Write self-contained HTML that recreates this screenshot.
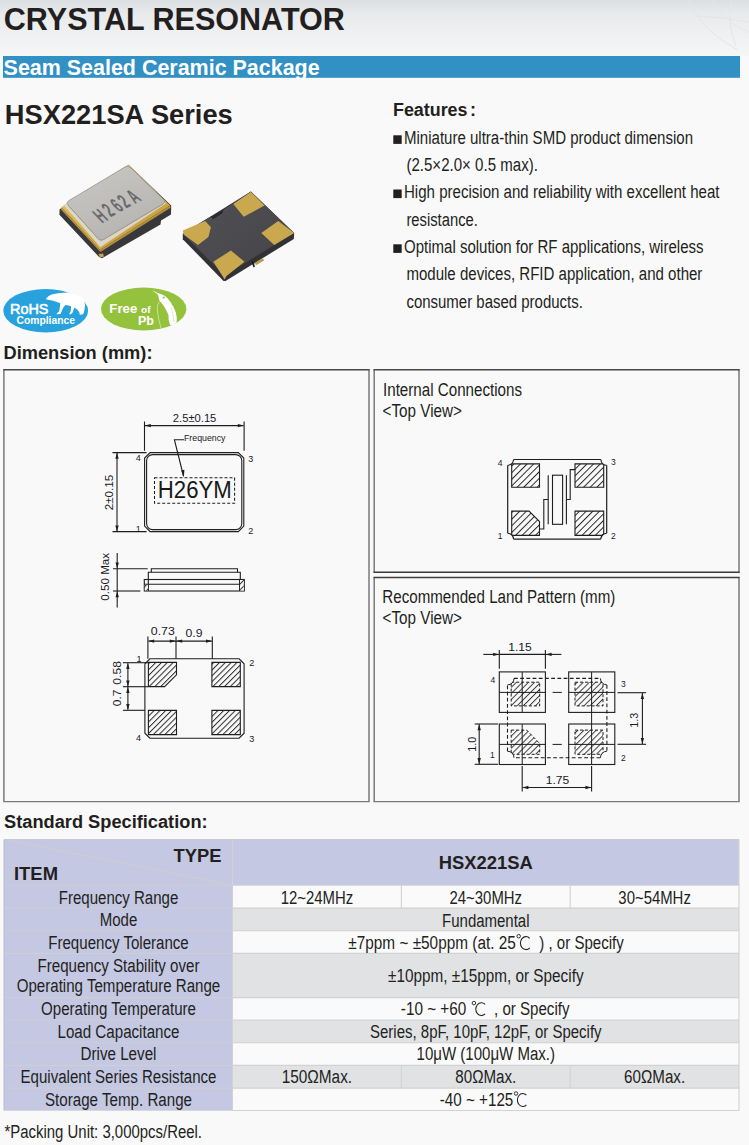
<!DOCTYPE html>
<html><head><meta charset="utf-8"><title>HSX221SA</title>
<style>
html,body{margin:0;padding:0;background:#f9f9f9;}
svg{display:block;font-family:'Liberation Sans', sans-serif;}
</style></head><body>
<svg width="749" height="1145" viewBox="0 0 749 1145">
<defs>
<linearGradient id="bg" x1="0" y1="0" x2="0" y2="1">
<stop offset="0" stop-color="#dcdfe1"/>
<stop offset="0.25" stop-color="#e8eaec"/>
<stop offset="0.6" stop-color="#eff0f1"/>
<stop offset="1" stop-color="#f5f6f6"/>
</linearGradient>
<pattern id="hatch" patternUnits="userSpaceOnUse" width="4.1" height="4.1" patternTransform="rotate(45)">
<rect width="4.1" height="4.1" fill="#f9f9f9"/>
<line x1="0.5" y1="0" x2="0.5" y2="4.1" stroke="#222" stroke-width="0.95"/>
</pattern>
<linearGradient id="gold1" x1="0" y1="0" x2="1" y2="1">
<stop offset="0" stop-color="#e8c870"/><stop offset="0.5" stop-color="#d4ac48"/><stop offset="1" stop-color="#c09838"/>
</linearGradient>
<linearGradient id="lid" x1="0.2" y1="0" x2="0.8" y2="1">
<stop offset="0" stop-color="#c8c6c3"/><stop offset="0.6" stop-color="#bdbbb8"/><stop offset="1" stop-color="#b2b0ad"/>
</linearGradient>
<linearGradient id="body2" x1="0" y1="0" x2="1" y2="1">
<stop offset="0" stop-color="#525155"/><stop offset="1" stop-color="#444347"/>
</linearGradient>
<pattern id="hatch2" patternUnits="userSpaceOnUse" width="4.3" height="4.3" patternTransform="rotate(45)">
<rect width="4.3" height="4.3" fill="#f9f9f9"/>
<line x1="0.5" y1="0" x2="0.5" y2="4.3" stroke="#2a2a2a" stroke-width="0.9"/>
</pattern>
<pattern id="hatch3" patternUnits="userSpaceOnUse" width="4.7" height="4.7" patternTransform="rotate(45)">
<rect width="4.7" height="4.7" fill="#f9f9f9"/>
<line x1="0.5" y1="0" x2="0.5" y2="4.7" stroke="#222" stroke-width="0.95"/>
</pattern>
</defs>
<rect x="0" y="0" width="749" height="1145" fill="#f9f9f9"/>
<rect x="0" y="0" width="749" height="56" fill="url(#bg)"/>
<path d="M688,0 Q702,32 738,50 M712,0 Q726,24 749,32 M696,16 Q724,17 749,22 M731,0 Q727,25 736,46" fill="none" stroke="#e3e6e8" stroke-width="1"/>

<text x="3.8" y="30" font-size="31" text-anchor="start" font-weight="bold" fill="#231f20" textLength="341" lengthAdjust="spacingAndGlyphs" >CRYSTAL RESONATOR</text>
<rect x="3" y="56" width="737" height="21.8" fill="#3190c4"/>
<text x="3.6" y="74.8" font-size="21.2" text-anchor="start" font-weight="bold" fill="#ffffff" textLength="316" lengthAdjust="spacingAndGlyphs" >Seam Sealed Ceramic Package</text>
<text x="4.8" y="124" font-size="27.3" text-anchor="start" font-weight="bold" fill="#231f20" textLength="228" lengthAdjust="spacingAndGlyphs" >HSX221SA Series</text>
<polygon points="59.6,209.2 128.5,164.8 171.2,205.6 171.0,214.5 161.0,220.5 160.5,224.5 102.0,258.2 99.1,257.0 59.4,214.8" fill="#38373c" />
<polygon points="61.2,207.3 128.5,164.6 170.2,205.6 100.0,250.0" fill="url(#gold1)" />
<polygon points="61.2,207.3 100.0,250.0 100.4,252.0 61.0,209.6" fill="#b8963e" />
<polygon points="100.0,250.0 170.2,205.6 170.5,207.8 100.4,252.0" fill="#b0903c" />
<polygon points="63.5,205.0 127.5,165.6 166.0,203.6 100.3,247.2" fill="#dcd6c6" />
<path d="M68.5,200.8 Q66,202.8 68,205 L98,238.5 Q100.5,241.5 103.5,239.5 L163,204 Q166,202 163.5,199.5 L131,168 Q128,165.3 125,167 Z" fill="url(#lid)" stroke="#8f8c86" stroke-width="0.7"/>
<path d="M68,205 L98,238.5 Q100.5,241.5 103.5,239.5 L163,204" fill="none" stroke="#a09c92" stroke-width="0.9"/>
<text x="0" y="0" font-size="19" font-weight="bold" fill="#6a6a6d" transform="matrix(0.530,-0.281,0.834,0.864,102,223.6)">H</text>
<text x="0" y="0" font-size="19" font-weight="bold" fill="#6a6a6d" transform="matrix(0.530,-0.281,0.834,0.864,110.8,217.3)">2</text>
<text x="0" y="0" font-size="19" font-weight="bold" fill="#6a6a6d" transform="matrix(0.530,-0.281,0.834,0.864,119.3,212.6)">6</text>
<text x="0" y="0" font-size="19" font-weight="bold" fill="#6a6a6d" transform="matrix(0.530,-0.281,0.834,0.864,126.3,208.4)">2</text>
<text x="0" y="0" font-size="19" font-weight="bold" fill="#6a6a6d" transform="matrix(0.530,-0.281,0.834,0.864,135,204)">A</text>
<polygon points="98.5,254.0 103.0,253.5 104.0,256.5 100.0,257.5" fill="#c9a548" />
<polygon points="182.8,233.7 250.9,191.5 294.2,232.9 293.8,239.0 225.5,281.0 223.5,281.0 182.8,239.2" fill="#323136" />
<polygon points="182.8,233.7 210.5,216.5 213.0,219.0 222.0,213.5 223.5,210.0 250.9,191.5 294.2,232.9 224.5,275.3" fill="url(#body2)" />
<polygon points="210.5,216.5 213.0,219.0 222.0,213.5 223.5,210.0 221.0,211.5 212.0,217.0" fill="#2a292e" />
<polygon points="233.3,204.0 250.9,192.0 264.5,205.6 243.7,216.8" fill="#c9a84f" />
<polygon points="182.8,230.5 205.2,220.9 210.9,227.3 208.4,236.9 198.0,244.9 183.6,234.5" fill="#c9a84f" />
<polygon points="261.3,232.9 278.2,220.9 294.2,232.9 274.2,244.9" fill="#c9a84f" />
<polygon points="213.3,261.7 230.9,250.5 244.5,261.7 226.5,276.0 224.5,279.5 222.5,276.0" fill="#c9a84f" />
<polygon points="254.0,263.5 262.0,258.5 264.5,260.0 256.5,265.0" fill="#b89a48" />
<polygon points="251.5,262.0 253.0,261.0 255.0,266.5 253.5,267.5" fill="#1e1d22" />
<ellipse cx="45.7" cy="310.7" rx="42.4" ry="21.7" fill="#27a2dd"/>
<path d="M46,298.6 Q48.5,295.5 51.5,294.4 Q60,292.3 69.5,292.5 Q78,294.5 84.2,299.5 Q85.8,305 84.5,310 L83.6,313.6 Q81.5,315.2 79.6,314.7 Q80,312.5 78.6,311.3 L76.8,309.2 L74.2,307.6 Q73.6,310.5 72.6,312.6 Q71.2,314.6 69.6,314.5 Q69.2,313.3 70.4,311.8 Q71.4,309 71,306.2 Q68.5,305.2 65.5,305 Q63,307 62.2,309.8 Q61.2,313 60.5,313.9 L56.3,314.2 Q57.5,312.6 59,311.6 Q60,307.5 60.2,303.2 Q56,301.6 52.3,300.6 Q49,300.2 46.6,299.6 Z" fill="#ffffff"/>
<text x="10" y="314" font-size="14.5" text-anchor="start" fill="#ffffff" textLength="38.5" lengthAdjust="spacingAndGlyphs" stroke="#ffffff" stroke-width="0.55">RoHS</text>
<text x="16.5" y="323.7" font-size="10" text-anchor="start" font-weight="bold" fill="#ffffff" textLength="58.5" lengthAdjust="spacingAndGlyphs" >Compliance</text>
<ellipse cx="143.7" cy="309" rx="42.7" ry="21.4" fill="#95c23c"/>
<text x="109.3" y="312.8" font-size="12.5" text-anchor="start" font-weight="bold" fill="#ffffff" textLength="28" lengthAdjust="spacingAndGlyphs" >Free</text>
<text x="141" y="312.8" font-size="9.5" text-anchor="start" font-weight="bold" fill="#ffffff" textLength="9.5" lengthAdjust="spacingAndGlyphs" >of</text>
<text x="138" y="325" font-size="12.5" text-anchor="start" font-weight="bold" fill="#ffffff" textLength="16" lengthAdjust="spacingAndGlyphs" >Pb</text>
<path d="M151.9,290.1 L158,293.3 Q162,293.6 165.3,296.2 Q171,301 174.9,310.1 Q177.5,317 176.5,322.4 Q174,325.5 170.1,325 Q168,320 168.5,314.9 Q166,309 162.6,304.2 L159.4,300.5 L157.8,294.4 Z" fill="#ffffff"/>
<ellipse cx="163.7" cy="297.5" rx="1.3" ry="0.9" fill="#95c23c" transform="rotate(-35 163.7 297.5)"/>
<path d="M159.4,301.6 Q156.5,306 157.3,310 Q158.5,320 161,328" fill="none" stroke="#ffffff" stroke-width="0.6" opacity="0.8"/>
<path d="M171.2,308 Q173.5,315 173.8,322.4" fill="none" stroke="#95c23c" stroke-width="0.6" stroke-dasharray="1,1"/>
<text x="393" y="116" font-size="18" text-anchor="start" font-weight="bold" fill="#231f20" textLength="74.5" lengthAdjust="spacingAndGlyphs" >Features</text>
<text x="470" y="116" font-size="18" text-anchor="start" font-weight="bold" fill="#231f20" >:</text>
<rect x="393.3" y="135.3" width="8.4" height="8.6" fill="#231f20"/>
<text x="404" y="144.1" font-size="18" text-anchor="start" fill="#231f20" textLength="289" lengthAdjust="spacingAndGlyphs" >Miniature ultra-thin SMD product dimension</text>
<text x="406.4" y="171" font-size="18" text-anchor="start" fill="#231f20" textLength="131.5" lengthAdjust="spacingAndGlyphs" >(2.5×2.0× 0.5 max).</text>
<rect x="393.3" y="189.5" width="8.4" height="8.6" fill="#231f20"/>
<text x="404" y="198.3" font-size="18" text-anchor="start" fill="#231f20" textLength="315.5" lengthAdjust="spacingAndGlyphs" >High precision and reliability with excellent heat</text>
<text x="406.4" y="225.7" font-size="18" text-anchor="start" fill="#231f20" textLength="71.5" lengthAdjust="spacingAndGlyphs" >resistance.</text>
<rect x="393.3" y="244.3" width="8.4" height="8.6" fill="#231f20"/>
<text x="404" y="253.1" font-size="18" text-anchor="start" fill="#231f20" textLength="299.5" lengthAdjust="spacingAndGlyphs" >Optimal solution for RF applications, wireless</text>
<text x="406.4" y="280.3" font-size="18" text-anchor="start" fill="#231f20" textLength="296" lengthAdjust="spacingAndGlyphs" >module devices, RFID application, and other</text>
<text x="406.4" y="308.3" font-size="18" text-anchor="start" fill="#231f20" textLength="176.5" lengthAdjust="spacingAndGlyphs" >consumer based products.</text>
<text x="3.5" y="358.5" font-size="18" text-anchor="start" font-weight="bold" fill="#231f20" textLength="149" lengthAdjust="spacingAndGlyphs" >Dimension (mm):</text>
<path d="M3.9,801.6 V369.7 M369,369.7 V801.6" stroke="#7a7a7a" stroke-width="1.5" fill="none"/>
<path d="M3.2,369.7 H369.7" stroke="#474747" stroke-width="1.4" fill="none"/>
<path d="M3.2,801.6 H369.7" stroke="#7a7a7a" stroke-width="1.4" fill="none"/>
<path d="M374.2,572.2 V369.7 M739,369.7 V572.2" stroke="#7a7a7a" stroke-width="1.5" fill="none"/>
<path d="M373.5,369.7 H739.7" stroke="#474747" stroke-width="1.4" fill="none"/>
<path d="M373.5,572.2 H739.7" stroke="#3a3a3a" stroke-width="1.4" fill="none"/>
<path d="M374.2,801.6 V577.5 M739,577.5 V801.6" stroke="#7a7a7a" stroke-width="1.5" fill="none"/>
<path d="M373.5,577.5 H739.7" stroke="#3f3f3f" stroke-width="1.4" fill="none"/>
<path d="M373.5,801.6 H739.7" stroke="#7a7a7a" stroke-width="1.4" fill="none"/>
<path d="M150.1,452.6 H238.3 L243.8,458.1 V526.1 L238.3,531.6 H150.1 L144.6,526.1 V458.1 Z" fill="none" stroke="#1e1e1e" stroke-width="1.1" />
<rect x="146.6" y="454.6" width="95.2" height="75" rx="6" ry="6" fill="none" stroke="#1e1e1e" stroke-width="1.1"/>
<line x1="144.5" y1="421.5" x2="144.5" y2="450.8" stroke="#1e1e1e" stroke-width="1.1"/>
<line x1="244.1" y1="421.5" x2="244.1" y2="450.8" stroke="#1e1e1e" stroke-width="1.1"/>
<line x1="145" y1="425.6" x2="243.6" y2="425.6" stroke="#1e1e1e" stroke-width="1.1"/>
<polygon points="144.8,425.6 150.8,423.9 150.8,427.3" fill="#1e1e1e"/>
<polygon points="243.8,425.6 237.8,423.9 237.8,427.3" fill="#1e1e1e"/>
<text x="194.6" y="422" font-size="11.5" text-anchor="middle" fill="#1a1a2a" textLength="43.5" lengthAdjust="spacingAndGlyphs" >2.5±0.15</text>
<line x1="112.5" y1="452.6" x2="146.6" y2="452.6" stroke="#1e1e1e" stroke-width="1.1"/>
<line x1="112.5" y1="531.6" x2="146.6" y2="531.6" stroke="#1e1e1e" stroke-width="1.1"/>
<line x1="117" y1="453" x2="117" y2="531.2" stroke="#1e1e1e" stroke-width="1.1"/>
<polygon points="117.0,452.8 115.3,458.8 118.7,458.8" fill="#1e1e1e"/>
<polygon points="117.0,531.4 115.3,525.4 118.7,525.4" fill="#1e1e1e"/>
<text x="0" y="0" font-size="11.8" text-anchor="middle" fill="#1a1a2a" textLength="35.5" lengthAdjust="spacingAndGlyphs" transform="translate(112.7,492.5) rotate(-90)">2±0.15</text>
<rect x="154.5" y="477.8" width="80.1" height="25.5" fill="none" stroke="#1e1e1e" stroke-width="1.05" stroke-dasharray="3,2"/>
<text x="194.8" y="498.1" font-size="23" text-anchor="middle" fill="#1a1a1a" textLength="74" lengthAdjust="spacingAndGlyphs" >H26YM</text>
<path d="M184,439.7 H174.4 L183.5,476" fill="none" stroke="#1e1e1e" stroke-width="1.1" />
<polygon points="183.8,477.6 181.2,470.5 184.4,469.8" fill="#1e1e1e"/>
<text x="184" y="440.9" font-size="9.6" text-anchor="start" fill="#222" textLength="41.5" lengthAdjust="spacingAndGlyphs" >Frequency</text>
<text x="135.8" y="461.3" font-size="9" text-anchor="start" fill="#1a1a2a" >4</text>
<text x="248.2" y="461.5" font-size="9" text-anchor="start" fill="#1a1a2a" >3</text>
<text x="135.8" y="531.6" font-size="9" text-anchor="start" fill="#1a1a2a" >1</text>
<text x="248.2" y="534.3" font-size="9" text-anchor="start" fill="#1a1a2a" >2</text>
<line x1="117.2" y1="553" x2="117.2" y2="607.4" stroke="#1e1e1e" stroke-width="1.1"/>
<polygon points="117.2,568.6 115.5,562.6 118.9,562.6" fill="#1e1e1e"/>
<polygon points="117.2,591.2 115.5,597.2 118.9,597.2" fill="#1e1e1e"/>
<line x1="113" y1="568.8" x2="147.7" y2="568.8" stroke="#1e1e1e" stroke-width="1.1"/>
<line x1="113" y1="591" x2="140.4" y2="591" stroke="#1e1e1e" stroke-width="1.1"/>
<path d="M151.3,572.2 V568.8 H237.5 V572.2" fill="none" stroke="#1e1e1e" stroke-width="1.1" />
<path d="M148.3,579.5 V572.2 H240.3 V579.5" fill="none" stroke="#1e1e1e" stroke-width="1.1" />
<rect x="144.3" y="579.5" width="100" height="11.5" fill="none" stroke="#1e1e1e" stroke-width="1.1"/>
<line x1="144.3" y1="584.3" x2="244.3" y2="584.3" stroke="#1e1e1e" stroke-width="1.1"/>
<line x1="148.3" y1="579.5" x2="148.3" y2="591" stroke="#1e1e1e" stroke-width="1.1"/>
<line x1="239.6" y1="579.5" x2="239.6" y2="591" stroke="#1e1e1e" stroke-width="1.1"/>
<rect x="144.8" y="584.8" width="3" height="5.7" fill="url(#hatch)"/>
<rect x="240.1" y="580" width="3.7" height="10.5" fill="url(#hatch)"/>
<text x="0" y="0" font-size="11.8" text-anchor="middle" fill="#1a1a2a" textLength="48" lengthAdjust="spacingAndGlyphs" transform="translate(108.6,576.8) rotate(-90)">0.50 Max</text>
<path d="M149.9,658.8 H239.1 L244.1,663.8 V733.2 L239.1,738.2 H149.9 L144.9,733.2 V663.8 Z" fill="none" stroke="#1e1e1e" stroke-width="1.1" />
<line x1="147.9" y1="636.6" x2="147.9" y2="658.8" stroke="#1e1e1e" stroke-width="1.1"/>
<line x1="176" y1="636.6" x2="176" y2="658.8" stroke="#1e1e1e" stroke-width="1.1"/>
<line x1="212.3" y1="636.6" x2="212.3" y2="658.8" stroke="#1e1e1e" stroke-width="1.1"/>
<line x1="148.5" y1="641.1" x2="211.8" y2="641.1" stroke="#1e1e1e" stroke-width="1.1"/>
<polygon points="148.2,641.1 154.2,639.4 154.2,642.8" fill="#1e1e1e"/>
<polygon points="175.8,641.1 169.8,639.4 169.8,642.8" fill="#1e1e1e"/>
<polygon points="176.2,641.1 182.2,639.4 182.2,642.8" fill="#1e1e1e"/>
<polygon points="212.0,641.1 206.0,639.4 206.0,642.8" fill="#1e1e1e"/>
<text x="162.8" y="635" font-size="11.5" text-anchor="middle" fill="#1a1a2a" textLength="24" lengthAdjust="spacingAndGlyphs" >0.73</text>
<text x="194" y="637" font-size="11.5" text-anchor="middle" fill="#1a1a2a" textLength="17" lengthAdjust="spacingAndGlyphs" >0.9</text>
<line x1="122.9" y1="662.7" x2="148" y2="662.7" stroke="#1e1e1e" stroke-width="1.1"/>
<line x1="122.9" y1="686.7" x2="148" y2="686.7" stroke="#1e1e1e" stroke-width="1.1"/>
<line x1="122.9" y1="710.3" x2="145" y2="710.3" stroke="#1e1e1e" stroke-width="1.1"/>
<line x1="127.9" y1="663.2" x2="127.9" y2="709.8" stroke="#1e1e1e" stroke-width="1.1"/>
<polygon points="127.9,662.9 126.2,668.9 129.6,668.9" fill="#1e1e1e"/>
<polygon points="127.9,686.5 126.2,680.5 129.6,680.5" fill="#1e1e1e"/>
<polygon points="127.9,686.9 126.2,692.9 129.6,692.9" fill="#1e1e1e"/>
<polygon points="127.9,710.1 126.2,704.1 129.6,704.1" fill="#1e1e1e"/>
<text x="0" y="0" font-size="11.5" text-anchor="middle" fill="#1a1a2a" textLength="23.5" lengthAdjust="spacingAndGlyphs" transform="translate(121.1,672.9) rotate(-90)">0.58</text>
<text x="0" y="0" font-size="11.5" text-anchor="middle" fill="#1a1a2a" textLength="16.5" lengthAdjust="spacingAndGlyphs" transform="translate(121.1,697.9) rotate(-90)">0.7</text>
<polygon points="148.4,662.4 176.5,662.4 176.5,674.8 164.6,686.6 148.4,686.6" fill="url(#hatch)" stroke="#1e1e1e" stroke-width="1.1"/>
<polygon points="211.9,662.4 240.3,662.4 240.3,686.6 211.9,686.6" fill="url(#hatch)" stroke="#1e1e1e" stroke-width="1.1"/>
<polygon points="148.4,710.4 176.5,710.4 176.5,734.6 148.4,734.6" fill="url(#hatch)" stroke="#1e1e1e" stroke-width="1.1"/>
<polygon points="211.9,710.4 240.3,710.4 240.3,734.6 211.9,734.6" fill="url(#hatch)" stroke="#1e1e1e" stroke-width="1.1"/>
<text x="136.6" y="662.2" font-size="9" text-anchor="start" fill="#1a1a2a" >1</text>
<text x="249.3" y="666" font-size="9" text-anchor="start" fill="#1a1a2a" >2</text>
<text x="136" y="741" font-size="9" text-anchor="start" fill="#1a1a2a" >4</text>
<text x="249.3" y="742" font-size="9" text-anchor="start" fill="#1a1a2a" >3</text>
<polygon points="511.7,463.9 539.5,463.9 539.5,487.3 511.7,487.3" fill="url(#hatch3)" stroke="#1e1e1e" stroke-width="1.1"/>
<polygon points="575.0,463.9 603.7,463.9 603.7,487.3 575.0,487.3" fill="url(#hatch3)" stroke="#1e1e1e" stroke-width="1.1"/>
<polygon points="511.7,511.1 529.0,511.1 539.5,521.5 539.5,535.4 511.7,535.4" fill="url(#hatch3)" stroke="#1e1e1e" stroke-width="1.1"/>
<polygon points="575.0,511.1 603.7,511.1 603.7,535.4 575.0,535.4" fill="url(#hatch3)" stroke="#1e1e1e" stroke-width="1.1"/>
<rect x="552.5" y="475.2" width="10.1" height="49.1" fill="#f9f9f9" stroke="#1e1e1e" stroke-width="1.1"/>
<line x1="548.2" y1="475.2" x2="548.2" y2="524.3" stroke="#1e1e1e" stroke-width="1.1"/>
<line x1="566.4" y1="475.2" x2="566.4" y2="524.3" stroke="#1e1e1e" stroke-width="1.1"/>
<path d="M539.5,529 H543.8 V499.5 H548.2" fill="none" stroke="#1e1e1e" stroke-width="1.1" />
<path d="M575,469.6 H570.2 V499.5 H566.4" fill="none" stroke="#1e1e1e" stroke-width="1.1" />
<path d="M513.5,459.5 H600.9 M513.5,539.1 H600.9 M507.7,465.3 V533.3 M606.7,465.3 V533.3" fill="none" stroke="#1e1e1e" stroke-width="1.2" />
<path d="M513.5,459.5 A5.8,5.8 0 0 1 507.7,465.3 L507.7,459.5 Z" fill="#f9f9f9" stroke="none"/>
<path d="M513.5,459.5 A5.8,5.8 0 0 1 507.7,465.3" fill="none" stroke="#1e1e1e" stroke-width="1.1"/>
<path d="M600.9000000000001,459.5 A5.8,5.8 0 0 0 606.7,465.3 L606.7,459.5 Z" fill="#f9f9f9" stroke="none"/>
<path d="M600.9000000000001,459.5 A5.8,5.8 0 0 0 606.7,465.3" fill="none" stroke="#1e1e1e" stroke-width="1.1"/>
<path d="M513.5,539.1 A5.8,5.8 0 0 0 507.7,533.3000000000001 L507.7,539.1 Z" fill="#f9f9f9" stroke="none"/>
<path d="M513.5,539.1 A5.8,5.8 0 0 0 507.7,533.3000000000001" fill="none" stroke="#1e1e1e" stroke-width="1.1"/>
<path d="M600.9000000000001,539.1 A5.8,5.8 0 0 1 606.7,533.3000000000001 L606.7,539.1 Z" fill="#f9f9f9" stroke="none"/>
<path d="M600.9000000000001,539.1 A5.8,5.8 0 0 1 606.7,533.3000000000001" fill="none" stroke="#1e1e1e" stroke-width="1.1"/>
<text x="497.8" y="465.8" font-size="8.5" text-anchor="start" fill="#1a1a2a" >4</text>
<text x="611" y="464.8" font-size="8.5" text-anchor="start" fill="#1a1a2a" >3</text>
<text x="497.8" y="539" font-size="8.5" text-anchor="start" fill="#1a1a2a" >1</text>
<text x="611" y="539.4" font-size="8.5" text-anchor="start" fill="#1a1a2a" >2</text>
<rect x="499.3" y="671.9" width="46.1" height="40.5" fill="none" stroke="#1e1e1e" stroke-width="1.1"/>
<rect x="568.7" y="671.9" width="46.1" height="40.5" fill="none" stroke="#1e1e1e" stroke-width="1.1"/>
<rect x="499.3" y="724" width="46.1" height="40.5" fill="none" stroke="#1e1e1e" stroke-width="1.1"/>
<rect x="568.7" y="724" width="46.1" height="40.5" fill="none" stroke="#1e1e1e" stroke-width="1.1"/>
<polygon points="511.2,682.2 539.7,682.2 539.7,705.9 511.2,705.9" fill="url(#hatch2)" stroke="#1e1e1e" stroke-width="1" stroke-dasharray="3,2"/>
<polygon points="575.0,682.2 603.0,682.2 603.0,705.9 575.0,705.9" fill="url(#hatch2)" stroke="#1e1e1e" stroke-width="1" stroke-dasharray="3,2"/>
<polygon points="511.2,730.1 526.7,730.1 539.7,743.5 539.7,754.3 511.2,754.3" fill="url(#hatch2)" stroke="#1e1e1e" stroke-width="1" stroke-dasharray="3,2"/>
<polygon points="575.0,730.1 603.0,730.1 603.0,754.3 575.0,754.3" fill="url(#hatch2)" stroke="#1e1e1e" stroke-width="1" stroke-dasharray="3,2"/>
<path d="M514,678.4 H600.4 M606.9,684.9 V751.2 M600.4,757.7 H514 M507.5,751.2 V684.9" fill="none" stroke="#1e1e1e" stroke-width="1.1" stroke-dasharray="3.8,2.4" />
<path d="M514.0,678.4 A6.5,6.5 0 0 1 507.5,684.9 L507.5,678.4 Z" fill="#f9f9f9" stroke="none"/>
<path d="M514.0,678.4 A6.5,6.5 0 0 1 507.5,684.9" fill="none" stroke="#1e1e1e" stroke-width="1"/>
<path d="M600.4,678.4 A6.5,6.5 0 0 0 606.9,684.9 L606.9,678.4 Z" fill="#f9f9f9" stroke="none"/>
<path d="M600.4,678.4 A6.5,6.5 0 0 0 606.9,684.9" fill="none" stroke="#1e1e1e" stroke-width="1"/>
<path d="M514.0,757.7 A6.5,6.5 0 0 0 507.5,751.2 L507.5,757.7 Z" fill="#f9f9f9" stroke="none"/>
<path d="M514.0,757.7 A6.5,6.5 0 0 0 507.5,751.2" fill="none" stroke="#1e1e1e" stroke-width="1"/>
<path d="M600.4,757.7 A6.5,6.5 0 0 1 606.9,751.2 L606.9,757.7 Z" fill="#f9f9f9" stroke="none"/>
<path d="M600.4,757.7 A6.5,6.5 0 0 1 606.9,751.2" fill="none" stroke="#1e1e1e" stroke-width="1"/>
<line x1="522.2" y1="671.9" x2="522.2" y2="712.8" stroke="#1e1e1e" stroke-width="1"/>
<line x1="522.2" y1="724" x2="522.2" y2="764.3" stroke="#1e1e1e" stroke-width="1"/>
<line x1="591.6" y1="671.9" x2="591.6" y2="764.3" stroke="#1e1e1e" stroke-width="1"/>
<line x1="499.3" y1="692.4" x2="545.4" y2="692.4" stroke="#1e1e1e" stroke-width="1"/>
<line x1="568.7" y1="692.4" x2="614.9" y2="692.4" stroke="#1e1e1e" stroke-width="1"/>
<line x1="499.3" y1="744.4" x2="545.4" y2="744.4" stroke="#1e1e1e" stroke-width="1"/>
<line x1="568.7" y1="744.4" x2="614.9" y2="744.4" stroke="#1e1e1e" stroke-width="1"/>
<line x1="552.6" y1="692.4" x2="561.8" y2="692.4" stroke="#1e1e1e" stroke-width="1"/>
<line x1="552.6" y1="744.4" x2="561.8" y2="744.4" stroke="#1e1e1e" stroke-width="1"/>
<line x1="499.3" y1="650" x2="499.3" y2="668.7" stroke="#1e1e1e" stroke-width="1.1"/>
<line x1="545.4" y1="650" x2="545.4" y2="668.7" stroke="#1e1e1e" stroke-width="1.1"/>
<line x1="483.3" y1="654.4" x2="499" y2="654.4" stroke="#1e1e1e" stroke-width="1.1"/>
<line x1="545.7" y1="654.4" x2="561.4" y2="654.4" stroke="#1e1e1e" stroke-width="1.1"/>
<line x1="499.3" y1="654.4" x2="545.4" y2="654.4" stroke="#1e1e1e" stroke-width="1.1"/>
<polygon points="499.1,654.4 493.1,652.7 493.1,656.1" fill="#1e1e1e"/>
<polygon points="545.6,654.4 551.6,652.7 551.6,656.1" fill="#1e1e1e"/>
<text x="520" y="650.7" font-size="11.5" text-anchor="middle" fill="#1a1a2a" textLength="23.5" lengthAdjust="spacingAndGlyphs" >1.15</text>
<line x1="522.2" y1="766" x2="522.2" y2="791.5" stroke="#1e1e1e" stroke-width="1.1"/>
<line x1="591.6" y1="766" x2="591.6" y2="791.5" stroke="#1e1e1e" stroke-width="1.1"/>
<line x1="522.5" y1="787.5" x2="591.3" y2="787.5" stroke="#1e1e1e" stroke-width="1.1"/>
<polygon points="522.4,787.5 528.4,785.8 528.4,789.2" fill="#1e1e1e"/>
<polygon points="591.4,787.5 585.4,785.8 585.4,789.2" fill="#1e1e1e"/>
<text x="557.5" y="784.3" font-size="11.5" text-anchor="middle" fill="#1a1a2a" textLength="23.5" lengthAdjust="spacingAndGlyphs" >1.75</text>
<line x1="617.5" y1="692.7" x2="646.1" y2="692.7" stroke="#1e1e1e" stroke-width="1.1"/>
<line x1="617.5" y1="744.3" x2="646.1" y2="744.3" stroke="#1e1e1e" stroke-width="1.1"/>
<line x1="642.4" y1="693" x2="642.4" y2="744" stroke="#1e1e1e" stroke-width="1.1"/>
<polygon points="642.4,692.9 640.7,698.9 644.1,698.9" fill="#1e1e1e"/>
<polygon points="642.4,744.1 640.7,738.1 644.1,738.1" fill="#1e1e1e"/>
<text x="0" y="0" font-size="11.5" text-anchor="middle" fill="#1a1a2a" textLength="15" lengthAdjust="spacingAndGlyphs" transform="translate(638.4,720.2) rotate(-90)">1.3</text>
<line x1="474.7" y1="724" x2="498" y2="724" stroke="#1e1e1e" stroke-width="1.1"/>
<line x1="474.7" y1="764.3" x2="498" y2="764.3" stroke="#1e1e1e" stroke-width="1.1"/>
<line x1="479.2" y1="724.3" x2="479.2" y2="764" stroke="#1e1e1e" stroke-width="1.1"/>
<polygon points="479.2,724.2 477.5,730.2 480.9,730.2" fill="#1e1e1e"/>
<polygon points="479.2,764.1 477.5,758.1 480.9,758.1" fill="#1e1e1e"/>
<text x="0" y="0" font-size="11.5" text-anchor="middle" fill="#1a1a2a" textLength="15" lengthAdjust="spacingAndGlyphs" transform="translate(475.5,744.2) rotate(-90)">1.0</text>
<text x="490.5" y="683.4" font-size="8.5" text-anchor="start" fill="#1a1a2a" >4</text>
<text x="621" y="686.6" font-size="8.5" text-anchor="start" fill="#1a1a2a" >3</text>
<text x="490" y="758.2" font-size="8.5" text-anchor="start" fill="#1a1a2a" >1</text>
<text x="621" y="760.8" font-size="8.5" text-anchor="start" fill="#1a1a2a" >2</text>
<text x="383" y="395.7" font-size="18" text-anchor="start" fill="#231f20" textLength="139" lengthAdjust="spacingAndGlyphs" >Internal Connections</text>
<text x="382.5" y="416.7" font-size="18" text-anchor="start" fill="#231f20" textLength="79.5" lengthAdjust="spacingAndGlyphs" >&lt;Top View&gt;</text>
<text x="382.3" y="603.4" font-size="18" text-anchor="start" fill="#231f20" textLength="233" lengthAdjust="spacingAndGlyphs" >Recommended Land Pattern (mm)</text>
<text x="382.5" y="624.4" font-size="18" text-anchor="start" fill="#231f20" textLength="79.5" lengthAdjust="spacingAndGlyphs" >&lt;Top View&gt;</text>
<text x="4.1" y="827.7" font-size="18" text-anchor="start" font-weight="bold" fill="#231f20" textLength="203.5" lengthAdjust="spacingAndGlyphs" >Standard Specification:</text>
<rect x="4" y="839.5" width="735" height="271.0" fill="#c4c8e2"/>
<rect x="232.5" y="885.2" width="506.5" height="22.899999999999977" fill="#fafafa"/>
<rect x="232.5" y="908.1" width="506.5" height="22.699999999999932" fill="#e1e2e4"/>
<rect x="232.5" y="930.8" width="506.5" height="22.600000000000023" fill="#fafafa"/>
<rect x="232.5" y="953.4" width="506.5" height="44.200000000000045" fill="#e1e2e4"/>
<rect x="232.5" y="997.6" width="506.5" height="22.399999999999977" fill="#fafafa"/>
<rect x="232.5" y="1020" width="506.5" height="22.799999999999955" fill="#e1e2e4"/>
<rect x="232.5" y="1042.8" width="506.5" height="22.600000000000136" fill="#fafafa"/>
<rect x="232.5" y="1065.4" width="506.5" height="22.699999999999818" fill="#e1e2e4"/>
<rect x="232.5" y="1088.1" width="506.5" height="22.40000000000009" fill="#fafafa"/>
<g stroke="#d2d2d2" stroke-width="1.1">
<line x1="232.5" y1="885.2" x2="739" y2="885.2"/>
<line x1="232.5" y1="908.1" x2="739" y2="908.1"/>
<line x1="232.5" y1="930.8" x2="739" y2="930.8"/>
<line x1="232.5" y1="953.4" x2="739" y2="953.4"/>
<line x1="232.5" y1="997.6" x2="739" y2="997.6"/>
<line x1="232.5" y1="1020" x2="739" y2="1020"/>
<line x1="232.5" y1="1042.8" x2="739" y2="1042.8"/>
<line x1="232.5" y1="1065.4" x2="739" y2="1065.4"/>
<line x1="232.5" y1="1088.1" x2="739" y2="1088.1"/>
<line x1="232.5" y1="1110.5" x2="739" y2="1110.5"/>
<line x1="232.5" y1="839.5" x2="232.5" y2="1110.5"/>
<line x1="739" y1="839.5" x2="739" y2="1110.5"/>
<line x1="401.4" y1="885.2" x2="401.4" y2="908.1"/>
<line x1="570.2" y1="885.2" x2="570.2" y2="908.1"/>
<line x1="401.4" y1="1065.4" x2="401.4" y2="1088.1"/>
<line x1="570.2" y1="1065.4" x2="570.2" y2="1088.1"/>
</g>
<g stroke="#cfced2" stroke-width="1.1">
<line x1="4" y1="885.2" x2="232.5" y2="885.2"/>
<line x1="4" y1="908.1" x2="232.5" y2="908.1"/>
<line x1="4" y1="930.8" x2="232.5" y2="930.8"/>
<line x1="4" y1="953.4" x2="232.5" y2="953.4"/>
<line x1="4" y1="997.6" x2="232.5" y2="997.6"/>
<line x1="4" y1="1020" x2="232.5" y2="1020"/>
<line x1="4" y1="1042.8" x2="232.5" y2="1042.8"/>
<line x1="4" y1="1065.4" x2="232.5" y2="1065.4"/>
<line x1="4" y1="1088.1" x2="232.5" y2="1088.1"/>
<line x1="4" y1="839.5" x2="232.5" y2="885.2"/>
</g>
<line x1="4" y1="839.5" x2="4" y2="1110.5" stroke="#b8bad0" stroke-width="1"/>
<line x1="4" y1="1110.5" x2="232.5" y2="1110.5" stroke="#d8d8d8" stroke-width="1"/>
<line x1="4" y1="839.5" x2="739" y2="839.5" stroke="#c8c8d0" stroke-width="1"/>
<text x="221.5" y="862" font-size="18" text-anchor="end" font-weight="bold" fill="#231f20" textLength="48" lengthAdjust="spacingAndGlyphs" >TYPE</text>
<text x="14" y="880" font-size="18" text-anchor="start" font-weight="bold" fill="#231f20" textLength="44" lengthAdjust="spacingAndGlyphs" >ITEM</text>
<text x="485.8" y="869" font-size="18" text-anchor="middle" font-weight="bold" fill="#231f20" textLength="94" lengthAdjust="spacingAndGlyphs" >HSX221SA</text>
<text x="118.5" y="903.8" font-size="18" text-anchor="middle" fill="#231f20" textLength="119.5" lengthAdjust="spacingAndGlyphs" >Frequency Range</text>
<text x="118.5" y="926.2" font-size="18" text-anchor="middle" fill="#231f20" textLength="37.5" lengthAdjust="spacingAndGlyphs" >Mode</text>
<text x="118.5" y="949" font-size="18" text-anchor="middle" fill="#231f20" textLength="140.5" lengthAdjust="spacingAndGlyphs" >Frequency Tolerance</text>
<text x="118.5" y="972.1" font-size="18" text-anchor="middle" fill="#231f20" textLength="162" lengthAdjust="spacingAndGlyphs" >Frequency Stability over</text>
<text x="118.5" y="992.1" font-size="18" text-anchor="middle" fill="#231f20" textLength="203.5" lengthAdjust="spacingAndGlyphs" >Operating Temperature Range</text>
<text x="118.5" y="1015.4" font-size="18" text-anchor="middle" fill="#231f20" textLength="155" lengthAdjust="spacingAndGlyphs" >Operating Temperature</text>
<text x="118.5" y="1038.4" font-size="18" text-anchor="middle" fill="#231f20" textLength="122" lengthAdjust="spacingAndGlyphs" >Load Capacitance</text>
<text x="118.5" y="1060" font-size="18" text-anchor="middle" fill="#231f20" textLength="76" lengthAdjust="spacingAndGlyphs" >Drive Level</text>
<text x="118.5" y="1083" font-size="18" text-anchor="middle" fill="#231f20" textLength="196" lengthAdjust="spacingAndGlyphs" >Equivalent Series Resistance</text>
<text x="118.5" y="1105.7" font-size="18" text-anchor="middle" fill="#231f20" textLength="147" lengthAdjust="spacingAndGlyphs" >Storage Temp. Range</text>
<text x="316.9" y="903.8" font-size="18" text-anchor="middle" fill="#231f20" textLength="72.5" lengthAdjust="spacingAndGlyphs" >12~24MHz</text>
<text x="485.8" y="903.8" font-size="18" text-anchor="middle" fill="#231f20" textLength="72.5" lengthAdjust="spacingAndGlyphs" >24~30MHz</text>
<text x="654.6" y="903.8" font-size="18" text-anchor="middle" fill="#231f20" textLength="72.5" lengthAdjust="spacingAndGlyphs" >30~54MHz</text>
<text x="485.8" y="926.5" font-size="18" text-anchor="middle" fill="#231f20" textLength="87.5" lengthAdjust="spacingAndGlyphs" >Fundamental</text>
<text x="485.8" y="982" font-size="18" text-anchor="middle" fill="#231f20" textLength="195.5" lengthAdjust="spacingAndGlyphs" >±10ppm, ±15ppm, or Specify</text>
<text x="485.8" y="1038.4" font-size="18" text-anchor="middle" fill="#231f20" textLength="231.5" lengthAdjust="spacingAndGlyphs" >Series, 8pF, 10pF, 12pF, or Specify</text>
<text x="485.8" y="1060" font-size="18" text-anchor="middle" fill="#231f20" textLength="138.5" lengthAdjust="spacingAndGlyphs" >10μW (100μW Max.)</text>
<text x="316.9" y="1083" font-size="18" text-anchor="middle" fill="#231f20" textLength="70.5" lengthAdjust="spacingAndGlyphs" >150ΩMax.</text>
<text x="485.8" y="1083" font-size="18" text-anchor="middle" fill="#231f20" textLength="61" lengthAdjust="spacingAndGlyphs" >80ΩMax.</text>
<text x="654.6" y="1083" font-size="18" text-anchor="middle" fill="#231f20" textLength="61" lengthAdjust="spacingAndGlyphs" >60ΩMax.</text>
<text x="348.3" y="949" font-size="18" text-anchor="start" fill="#231f20" textLength="167.5" lengthAdjust="spacingAndGlyphs" >±7ppm ~ ±50ppm (at. 25</text>
<circle cx="518.7" cy="936.2" r="1.75" fill="none" stroke="#231f20" stroke-width="0.9"/>
<path d="M529.75,938.27 A5.6,6.5 0 1 0 529.75,947.93" fill="none" stroke="#231f20" stroke-width="1.05"/>
<text x="539.3" y="949" font-size="18" text-anchor="start" fill="#231f20" textLength="84.5" lengthAdjust="spacingAndGlyphs" >) , or Specify</text>
<text x="400.8" y="1015.4" font-size="18" text-anchor="start" fill="#231f20" textLength="65.5" lengthAdjust="spacingAndGlyphs" >-10 ~ +60</text>
<circle cx="473.9" cy="1003.1" r="1.75" fill="none" stroke="#231f20" stroke-width="0.9"/>
<path d="M485.15,1004.44 A5.6,6.4 0 1 0 485.15,1013.96" fill="none" stroke="#231f20" stroke-width="1.05"/>
<text x="494" y="1015.4" font-size="18" text-anchor="start" fill="#231f20" textLength="75.5" lengthAdjust="spacingAndGlyphs" >, or Specify</text>
<text x="439.8" y="1105.7" font-size="18" text-anchor="start" fill="#231f20" textLength="73.5" lengthAdjust="spacingAndGlyphs" >-40 ~ +125</text>
<circle cx="516" cy="1093.5" r="1.75" fill="none" stroke="#231f20" stroke-width="0.9"/>
<path d="M526.41,1095.17 A5.4,6.5 0 1 0 526.41,1104.83" fill="none" stroke="#231f20" stroke-width="1.05"/>
<text x="4.5" y="1138" font-size="18" text-anchor="start" fill="#231f20" textLength="197.5" lengthAdjust="spacingAndGlyphs" >*Packing Unit: 3,000pcs/Reel.</text>
</svg></body></html>
